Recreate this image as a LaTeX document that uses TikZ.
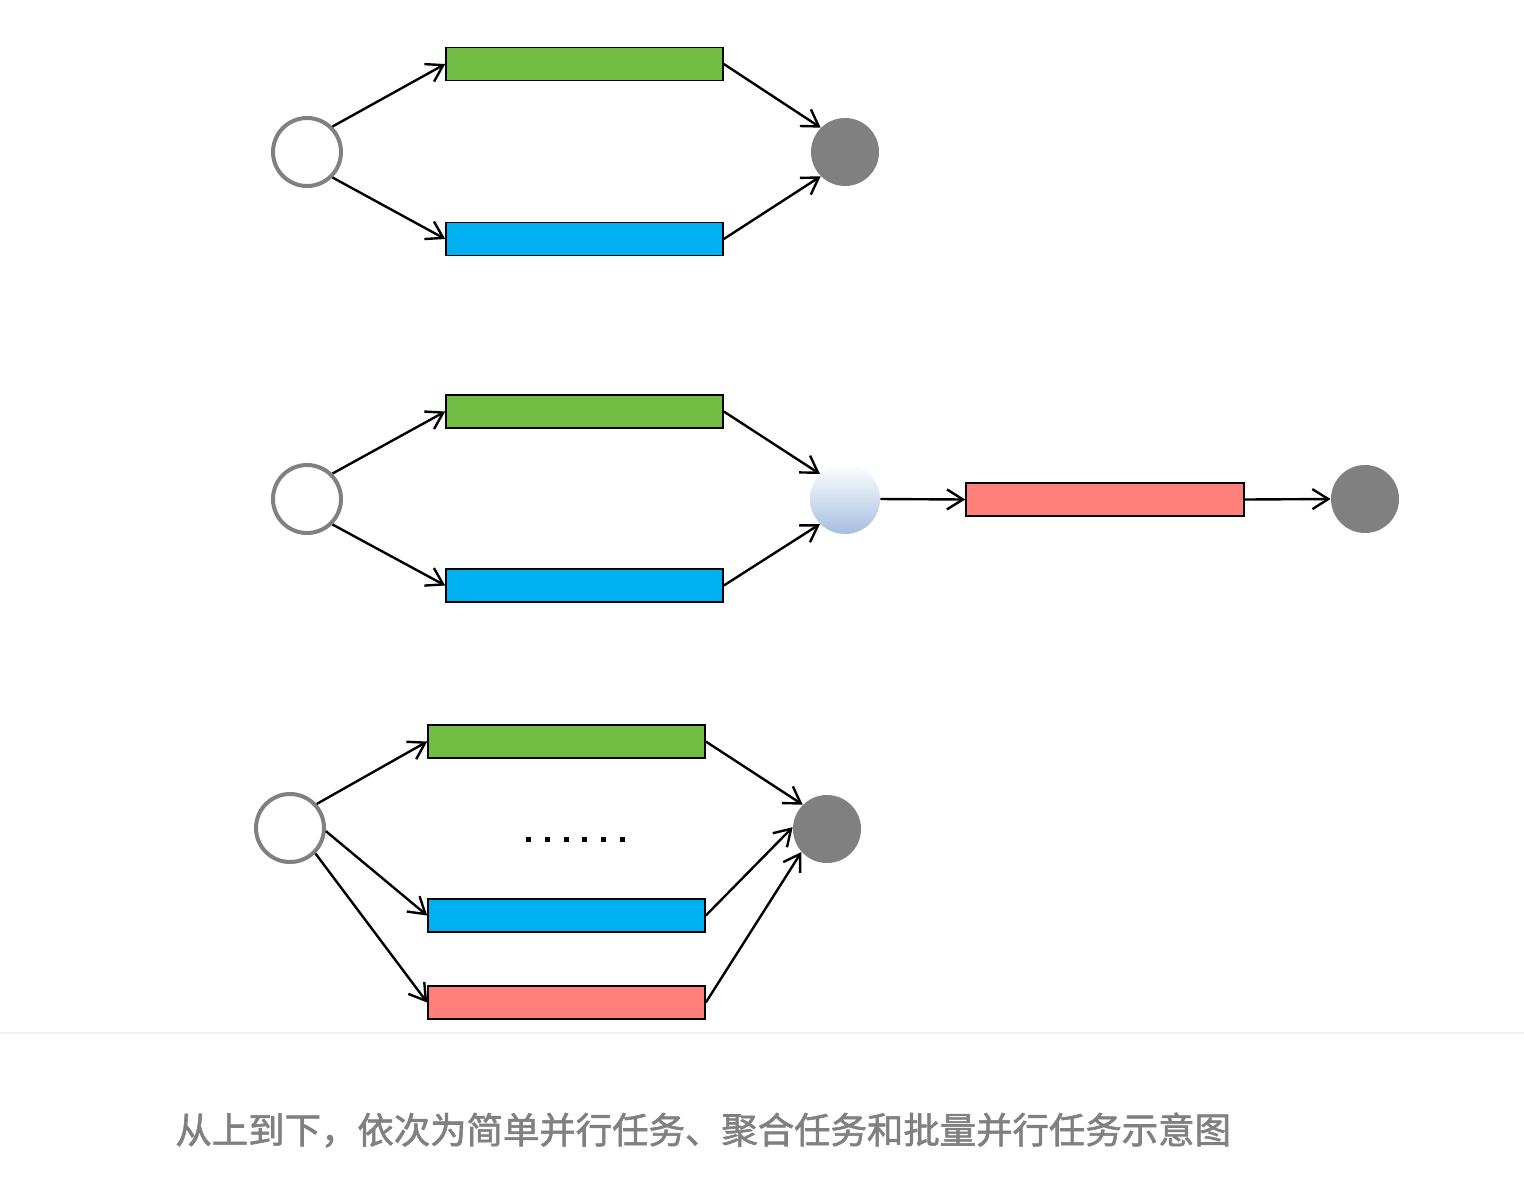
\documentclass[tikz,border=0pt]{standalone}
\usepackage{fontspec}
\newfontfamily\cjk[FakeBold=1.6]{Noto Sans CJK SC}
\usetikzlibrary{arrows.meta}
\definecolor{tgreen}{RGB}{114,190,68}
\definecolor{tblue}{RGB}{0,176,240}
\definecolor{tred}{RGB}{255,128,122}
\definecolor{cgray}{RGB}{128,128,128}
\definecolor{cblue}{RGB}{165,190,224}
\definecolor{capgray}{RGB}{128,128,128}
\definecolor{sepgray}{RGB}{240,240,240}
\tikzset{
  startnode/.style={circle,draw=cgray,line width=2pt,fill=white,minimum size=34pt,inner sep=0pt},
  endnode/.style={circle,fill=cgray,minimum size=34pt,inner sep=0pt},
  joinnode/.style={circle,top color=white,bottom color=cblue,minimum size=35pt,inner sep=0pt},
  taskbar/.style={draw=black,line width=0.8pt,minimum width=138.5pt,minimum height=16.5pt,inner sep=0pt},
  flow/.style={line width=1.2pt,-{Straight Barb[length=8pt,width=10pt,line width=1.2pt]}},
  dotsq/.style={fill=black,minimum size=2.5pt,inner sep=0pt}
}
\begin{document}
\begin{tikzpicture}[x=0.5pt,y=-0.5pt]
\useasboundingbox (0,0) rectangle (1524,1200);
\fill[white] (0,0) rectangle (1524,1200);
% diagram 1
\node[startnode] (s1) at (307,152) {};
\node[taskbar,fill=tgreen] (g1) at (584.5,64) {};
\node[taskbar,fill=tblue] (b1) at (584.5,239) {};
\node[endnode] (e1) at (845,152) {};
\draw[flow] (s1.45) -- (g1.west);
\draw[flow] (s1.-45) -- (b1.west);
\draw[flow] (g1.east) -- (e1.135);
\draw[flow] (b1.east) -- (e1.-135);
% diagram 2
\node[startnode] (s2) at (307,499) {};
\node[taskbar,fill=tgreen] (g2) at (584.5,411.5) {};
\node[taskbar,fill=tblue] (b2) at (584.5,585.5) {};
\node[joinnode] (j2) at (845,499) {};
\node[taskbar,fill=tred,minimum width=139pt] (r2) at (1105,499.5) {};
\node[endnode] (e2) at (1365,499) {};
\draw[flow] (s2.45) -- (g2.west);
\draw[flow] (s2.-45) -- (b2.west);
\draw[flow] (g2.east) -- (j2.135);
\draw[flow] (b2.east) -- (j2.-135);
\draw[flow] (j2.east) -- (r2.west);
\draw[flow] (r2.east) -- (e2.west);
% diagram 3
\node[startnode] (s3) at (290,828) {};
\node[taskbar,fill=tgreen] (g3) at (566.5,741.5) {};
\node[taskbar,fill=tblue] (b3) at (566.5,915.5) {};
\node[taskbar,fill=tred] (r3) at (566.5,1002.5) {};
\node[endnode] (e3) at (827,829) {};
\draw[flow] (s3.42) -- (g3.west);
\draw[flow] (s3.-5) -- (b3.west);
\draw[flow] (s3.-45) -- (r3.west);
\draw[flow] (g3.east) -- (e3.135);
\draw[flow] (b3.east) -- (e3.177);
\draw[flow] (r3.east) -- (e3.-138);
\foreach \i/\xx in {1/528,2/547,3/566,4/584,5/603,6/622}
  \node[dotsq] (d\i) at (\xx,839) {};
% separator
\draw[sepgray,line width=0.6pt] (0,1033) -- (1524,1033);
% caption
\node[anchor=west,inner sep=0pt,text=capgray,font=\cjk\fontsize{18.2pt}{22pt}\selectfont] (cap) at (175,1130) {从上到下，依次为简单并行任务、聚合任务和批量并行任务示意图};
\end{tikzpicture}
\end{document}
